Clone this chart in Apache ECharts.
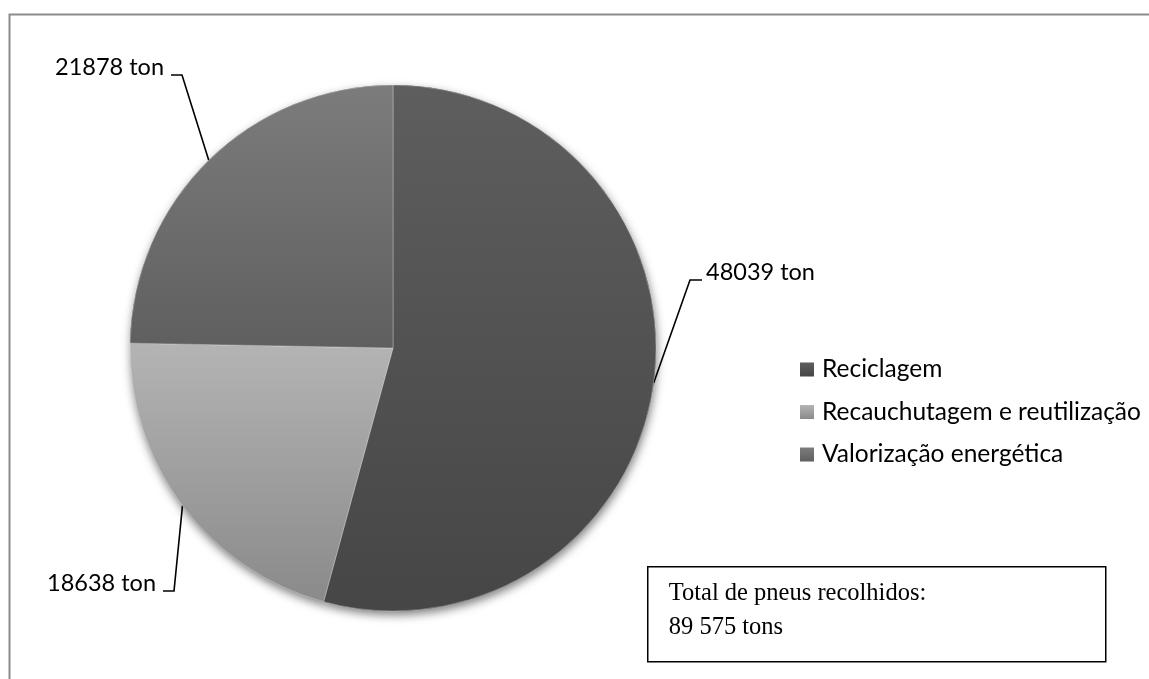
<!DOCTYPE html>
<html>
<head>
<meta charset="utf-8">
<script src="https://cdn.jsdelivr.net/npm/echarts@6/dist/echarts.min.js"></script>
<style>
  html, body { margin: 0; padding: 0; background: #fff; }
  #chart { width: 1149px; height: 679px; }
</style>
</head>
<body>
<div id="chart"></div>
<script>
// Destino dos pneus usados recolhidos (toneladas)
const categories = ['Reciclagem', 'Recauchutagem e reutilização', 'Valorização energética'];
const tonnes = [48039, 18638, 21878];
const totalLines = ['Total de pneus recolhidos:', '89 575 tons'];

// Vertical gradient stops (top, bottom) for each slice
const sliceShades = [
  ['#5e5e5e', '#464646'],
  ['#b4b4b4', '#8a8a8a'],
  ['#7c7c7c', '#5f5f5f']
];

const pieData = categories.map((name, i) => ({
  name: name,
  value: tonnes[i],
  itemStyle: {
    color: {
      type: 'linear', x: 0, y: 0, x2: 0, y2: 1,
      colorStops: [
        { offset: 0, color: sliceShades[i][0] },
        { offset: 1, color: sliceShades[i][1] }
      ]
    }
  }
}));

// Where each value label sits, and which side its leader line joins
const labelSpots = [
  { x: 706, y: 272, align: 'left' },
  { x: 156, y: 583, align: 'right' },
  { x: 164, y: 67, align: 'right' }
];

const chart = echarts.init(document.getElementById('chart'), null, { renderer: 'canvas' });

const pieCenter = [393, 348];
const pieRadius = 263;

chart.setOption({
  animation: false,
  backgroundColor: '#ffffff',
  legend: {
    orient: 'vertical',
    left: 795,
    top: 352,
    itemWidth: 14,
    itemHeight: 14,
    itemGap: 17.5,
    icon: 'rect',
    data: categories,
    textStyle: { fontFamily: 'Lato', fontSize: 24.5, color: '#000', padding: [0, 0, 0, 3] },
    selectedMode: false
  },
  graphic: [
    {
      type: 'rect', silent: true, z: 0,
      shape: { x: 9.5, y: 14.5, width: 1400, height: 900 },
      style: { fill: 'none', stroke: '#8c8c8c', lineWidth: 2 }
    },
    {
      type: 'group', left: 647, top: 566, z: 10,
      children: [
        {
          type: 'rect',
          shape: { x: 0, y: 0, width: 458, height: 95 },
          style: { fill: '#fff', stroke: '#000', lineWidth: 1.5 }
        },
        {
          type: 'text', x: 21, y: 10,
          style: {
            text: totalLines.join('\n'),
            font: '24.5px "Liberation Serif"',
            lineHeight: 34,
            fill: '#000'
          }
        }
      ]
    }
  ],
  series: [
    {
      // soft drop shadow under the whole pie
      type: 'pie',
      silent: true,
      z: 1,
      center: pieCenter,
      radius: pieRadius,
      startAngle: 90,
      clockwise: true,
      label: { show: false },
      labelLine: { show: false },
      itemStyle: {
        shadowBlur: 10,
        shadowOffsetX: 1,
        shadowOffsetY: 4,
        shadowColor: 'rgba(0,0,0,0.5)'
      },
      data: pieData
    },
    {
      type: 'pie',
      z: 2,
      center: pieCenter,
      radius: pieRadius,
      startAngle: 90,
      clockwise: true,
      itemStyle: { borderColor: 'rgba(255,255,255,0.35)', borderWidth: 0.8 },
      emphasis: { disabled: true },
      label: {
        show: true,
        position: 'outside',
        formatter: '{c} ton',
        fontFamily: 'Lato',
        fontSize: 23.5,
        color: '#000'
      },
      labelLine: {
        show: true,
        length: 20,
        length2: 10,
        lineStyle: { color: '#000', width: 1.6 }
      },
      labelLayout: function (params) {
        const spot = labelSpots[params.dataIndex];
        const start = params.labelLinePoints ? params.labelLinePoints[0] : null;
        const ly = spot.y + 8;
        const out = { x: spot.x, y: spot.y, align: spot.align, verticalAlign: 'middle' };
        if (start) {
          if (spot.align === 'left') {
            out.labelLinePoints = [start, [spot.x - 16, ly], [spot.x - 4, ly]];
          } else {
            out.labelLinePoints = [start, [spot.x + 18, ly], [spot.x + 7, ly]];
          }
        }
        return out;
      },
      data: pieData
    }
  ]
});
</script>
</body>
</html>
